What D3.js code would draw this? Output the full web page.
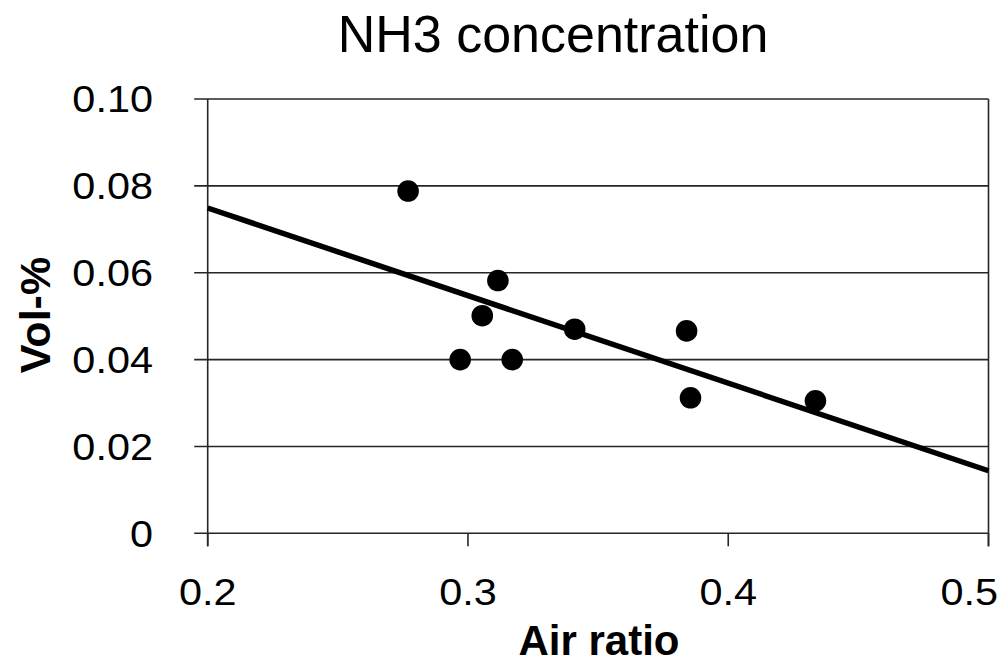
<!DOCTYPE html>
<html>
<head>
<meta charset="utf-8">
<script src="https://cdn.jsdelivr.net/npm/d3@7"></script>
<style>
  html, body { margin: 0; padding: 0; background: #fff; }
  svg { display: block; }
  text { font-family: "Liberation Sans", Arial, sans-serif; fill: #000; }
</style>
</head>
<body>
<svg id="chart" width="1001" height="666"></svg>
<script>
// Data
const airRatio = [0.277, 0.297, 0.3055, 0.3115, 0.317, 0.341, 0.384, 0.3855, 0.4335];
const volPct   = [0.0788, 0.0400, 0.0501, 0.0582, 0.0400, 0.0470, 0.0466, 0.0312, 0.0305];
const trendX = [0.2, 0.5];
const trendY = [0.0749, 0.0144];
const xTicks = [0.2, 0.3, 0.4, 0.5];
const xTickLabels = ["0.2", "0.3", "0.4", "0.5"];
const yTicks = [0, 0.02, 0.04, 0.06, 0.08, 0.10];
const yTickLabels = ["0", "0.02", "0.04", "0.06", "0.08", "0.10"];
const chartTitle = "NH3 concentration";
const xTitle = "Air ratio";
const yTitle = "Vol-%";

const svg = d3.select("#chart");
const pLeft = 207.7, pRight = 988.5, pTop = 99, pBottom = 533.3;
const x = d3.scaleLinear().domain([0.2, 0.5]).range([pLeft, pRight]);
const y = d3.scaleLinear().domain([0, 0.10]).range([pBottom, pTop]);

const gridColor = "#262626";
const sx = 1.12; // slight horizontal widening of tick label glyphs

// Horizontal gridlines (including y tick marks extending left)
svg.append("g").selectAll("line").data(yTicks).join("line")
  .attr("x1", pLeft - 13.5).attr("x2", pRight)
  .attr("y1", d => y(d)).attr("y2", d => y(d))
  .attr("stroke", gridColor).attr("stroke-width", 1.6);

// Y axis line and right border
svg.append("line").attr("x1", pLeft).attr("x2", pLeft).attr("y1", pTop).attr("y2", pBottom + 13)
  .attr("stroke", gridColor).attr("stroke-width", 1.6);
svg.append("line").attr("x1", pRight).attr("x2", pRight).attr("y1", pTop).attr("y2", pBottom + 13)
  .attr("stroke", gridColor).attr("stroke-width", 1.6);

// X tick marks
svg.append("g").selectAll("line").data(xTicks).join("line")
  .attr("x1", d => x(d)).attr("x2", d => x(d))
  .attr("y1", pBottom).attr("y2", pBottom + 13)
  .attr("stroke", gridColor).attr("stroke-width", 1.6);

// Y tick labels
svg.append("g").selectAll("text").data(yTicks).join("text")
  .attr("transform", d => `translate(153,${y(d)}) scale(${sx},1)`)
  .attr("dy", "0.36em")
  .attr("text-anchor", "end")
  .attr("font-size", 37)
  .text((d, i) => yTickLabels[i]);

// X tick labels (last one kept inside the page)
svg.append("g").selectAll("text").data(xTicks).join("text")
  .attr("transform", (d, i) => i === xTicks.length - 1
      ? `translate(998,605) scale(${sx},1)`
      : `translate(${x(d)},605) scale(${sx},1)`)
  .attr("text-anchor", (d, i) => i === xTicks.length - 1 ? "end" : "middle")
  .attr("font-size", 37)
  .text((d, i) => xTickLabels[i]);

// Trend line
svg.append("path")
  .datum(trendX.map((d, i) => [d, trendY[i]]))
  .attr("d", d3.line().x(d => x(d[0])).y(d => y(d[1])))
  .attr("fill", "none").attr("stroke", "#000").attr("stroke-width", 5.5);

// Points
svg.append("g").selectAll("circle").data(airRatio.map((d, i) => [d, volPct[i]])).join("circle")
  .attr("cx", d => x(d[0])).attr("cy", d => y(d[1]))
  .attr("r", 10.8).attr("fill", "#000");

// Titles
svg.append("text").attr("x", 553).attr("y", 52).attr("text-anchor", "middle")
  .attr("font-size", 52).text(chartTitle);
svg.append("text").attr("x", 599).attr("y", 655).attr("text-anchor", "middle")
  .attr("font-size", 42).attr("font-weight", "bold").text(xTitle);
svg.append("text").attr("transform", "translate(50,315) rotate(-90)").attr("text-anchor", "middle")
  .attr("font-size", 43).attr("font-weight", "bold").text(yTitle);
</script>
</body>
</html>
